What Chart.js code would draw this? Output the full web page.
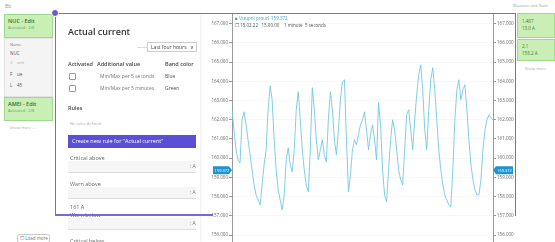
<!DOCTYPE html>
<html><head><meta charset="utf-8">
<script src="https://cdn.jsdelivr.net/npm/chart.js@4"></script>
<style>
html,body{margin:0;padding:0;width:555px;height:242px;overflow:hidden;background:#fff;font-family:"Open Sans",sans-serif;}
.abs{position:absolute;white-space:nowrap;}
.t{font-size:5px;color:#777;}
.card{position:absolute;background:#c9efb6;border:1px solid #9fd98a;box-sizing:border-box;}
#box{position:absolute;left:55px;top:13px;width:461px;height:203px;border:1.5px solid #7b68d8;border-bottom:none;box-sizing:border-box;}
#boxb{position:absolute;left:55px;top:214px;width:158px;height:1.5px;background:#7b68d8;}
#handle{position:absolute;left:51px;top:9px;width:8px;height:8px;border-radius:50%;background:#6a58d0;border:1px solid #fff;box-sizing:border-box;}
#dlg{position:absolute;left:57px;top:15px;width:143px;height:227px;background:#fff;box-shadow:1px 0 2px rgba(0,0,0,0.07);}
.inp{position:absolute;left:11px;width:128px;height:11px;background:#f6f6f6;border-bottom:1px solid #ddd;}
#c{position:absolute;left:195px;top:10px;}
</style></head><body>
<div class="abs t" style="left:5px;top:3px;color:#999;">Bb</div>
<div class="card" style="left:4px;top:14px;width:49px;height:24px;"></div>
<div class="abs" style="left:8px;top:17px;font-size:5.5px;font-weight:600;color:#3a6a2a;">NUC - Edit</div>
<div class="abs" style="left:8px;top:25px;font-size:4px;color:#6a9a5a;">Activated · 2/8</div>
<div class="abs" style="left:4px;top:38px;width:49px;height:59px;background:#f4f4f4;border:1px solid #e2e2e2;box-sizing:border-box;"></div>
<div class="abs t" style="left:10px;top:42px;font-size:4px;">Name</div>
<div class="abs t" style="left:10px;top:50px;font-size:4.5px;color:#555;">NUC</div>
<div class="abs t" style="left:10px;top:60px;font-size:4px;color:#aaa;">#&nbsp;&nbsp;&nbsp; unit</div>
<div class="abs t" style="left:10px;top:71px;font-size:4.5px;color:#555;">F&nbsp;&nbsp;&nbsp; ue</div>
<div class="abs t" style="left:10px;top:82px;font-size:4.5px;color:#555;">L&nbsp;&nbsp;&nbsp; 45</div>
<div class="card" style="left:4px;top:97px;width:49px;height:24px;"></div>
<div class="abs" style="left:8px;top:100px;font-size:5.5px;font-weight:600;color:#3a6a2a;">AMEI - Edit</div>
<div class="abs" style="left:8px;top:108px;font-size:4px;color:#6a9a5a;">Activated · 2/8</div>
<div class="abs t" style="left:10px;top:125px;font-size:4px;color:#aaa;">Show more ...</div>
<div class="abs" style="left:17px;top:234px;width:33px;height:9px;border:1px solid #ccc;border-radius:2px;box-sizing:border-box;font-size:4.5px;color:#777;padding-left:2px;line-height:7px;">☐ Load more</div>

<div class="abs t" style="left:513px;top:3px;font-size:4px;color:#999;">Measure unit  Scale</div>
<div class="card" style="left:517px;top:13px;width:38px;height:25px;"></div>
<div class="abs" style="left:522px;top:18px;font-size:4.5px;color:#4a7a3a;">1.487</div>
<div class="abs" style="left:522px;top:25px;font-size:4.5px;color:#4a7a3a;">13.0 A</div>
<div class="card" style="left:517px;top:39px;width:38px;height:22px;"></div>
<div class="abs" style="left:522px;top:43px;font-size:4.5px;color:#4a7a3a;">2.1</div>
<div class="abs" style="left:522px;top:50px;font-size:4.5px;color:#4a7a3a;">158.2 A</div>
<div class="abs t" style="left:525px;top:66px;font-size:4px;color:#aaa;">Show more</div>

<canvas id="c" width="325" height="248" style="width:325px;height:248px;"></canvas>
<div class="abs" style="left:235px;top:15px;font-size:4.5px;color:#3aa7cc;">■ Vstupní proud&nbsp; 159.372</div>
<div class="abs" style="left:235px;top:22px;font-size:4.5px;color:#555;">☐ 15.02.22&nbsp;&nbsp; 15.00.00&nbsp;&nbsp;&nbsp; 1 minute&nbsp; 5 seconds</div>

<div id="dlg">
  <div class="abs" style="left:11px;top:10px;font-size:9px;font-weight:600;color:#333;">Actual current</div>
  <div class="abs t" style="left:80px;top:29px;color:#aaa;">——</div>
  <div class="abs" style="left:90px;top:27px;width:50px;height:10px;border:1px solid #ccc;box-sizing:border-box;font-size:5px;color:#444;line-height:8px;padding-left:3px;">Last four hours&nbsp;&nbsp; ∨</div>
  <div class="abs" style="left:11px;top:45px;font-size:5.5px;font-weight:600;color:#444;">Activated</div>
  <div class="abs" style="left:40px;top:45px;font-size:5.5px;font-weight:600;color:#444;">Additional value</div>
  <div class="abs" style="left:108px;top:45px;font-size:5.5px;font-weight:600;color:#444;">Band color</div>
  <div class="abs" style="left:12px;top:58px;width:5px;height:5px;border:1px solid #999;border-radius:1px;"></div>
  <div class="abs t" style="left:43px;top:58px;">Min/Max per 5 seconds</div>
  <div class="abs t" style="left:108px;top:58px;color:#555;">Blue</div>
  <div class="abs" style="left:12px;top:70px;width:5px;height:5px;border:1px solid #999;border-radius:1px;"></div>
  <div class="abs t" style="left:43px;top:70px;">Min/Max per 5 minutes</div>
  <div class="abs t" style="left:108px;top:70px;color:#555;">Green</div>
  <div class="abs" style="left:11px;top:89px;font-size:5.5px;font-weight:600;color:#444;">Rules</div>
  <div class="abs t" style="left:13px;top:106px;font-size:4px;color:#aaa;">No rules defined</div>
  <div class="abs" style="left:11px;top:120px;width:128px;height:13px;background:#5a4fd6;color:#fff;font-size:5.5px;line-height:13px;padding-left:4px;box-sizing:border-box;">Create new rule for "Actual current"</div>
  <div class="abs t" style="left:13px;top:139px;font-size:5.5px;color:#666;">Critical above</div>
  <div class="inp" style="top:146px;"></div><div class="abs t" style="left:133px;top:148px;">: A</div>
  <div class="abs t" style="left:13px;top:165px;font-size:5.5px;color:#666;">Warn above</div>
  <div class="inp" style="top:172px;"></div><div class="abs t" style="left:133px;top:174px;">: A</div>
  <div class="abs t" style="left:13px;top:188px;font-size:5.5px;color:#666;">161 A</div>
  <div class="abs t" style="left:13px;top:196px;font-size:5.5px;color:#666;">Warn below</div>
  <div class="inp" style="top:203px;"></div><div class="abs t" style="left:133px;top:205px;">: A</div>
  <div class="abs t" style="left:13px;top:222px;font-size:5.5px;color:#666;">Critical below</div>
</div>
<div id="box"></div><div id="boxb"></div><div id="handle"></div>

<script>
const labels = [
"14:58:04","14:58:06","14:58:08","14:58:10","14:58:12","14:58:14","14:58:16","14:58:18","14:58:20","14:58:22",
"14:58:24","14:58:26","14:58:28","14:58:30","14:58:32","14:58:34","14:58:36","14:58:38","14:58:40","14:58:42",
"14:58:44","14:58:46","14:58:48","14:58:50","14:58:52","14:58:54","14:58:56","14:58:58","14:59:00","14:59:02",
"14:59:04","14:59:06","14:59:08","14:59:10","14:59:12","14:59:14","14:59:16","14:59:18","14:59:20","14:59:22",
"14:59:24","14:59:26","14:59:28","14:59:30","14:59:32","14:59:34","14:59:36","14:59:38","14:59:40","14:59:42",
"14:59:44","14:59:46","14:59:48","14:59:50","14:59:52","14:59:54","14:59:56","14:59:58","15:00:00","15:00:02",
"15:00:04","15:00:06","15:00:08","15:00:10","15:00:12","15:00:14","15:00:16","15:00:18","15:00:20","15:00:22",
"15:00:24","15:00:26","15:00:28","15:00:30","15:00:32","15:00:34","15:00:36","15:00:38","15:00:40","15:00:42",
"15:00:44","15:00:46","15:00:48","15:00:50","15:00:52","15:00:54","15:00:56","15:00:58","15:01:00","15:01:02",
"15:01:04","15:01:06","15:01:08","15:01:10","15:01:12","15:01:14","15:01:16","15:01:18","15:01:20","15:01:22",
"15:01:24","15:01:26","15:01:28","15:01:30","15:01:32","15:01:34","15:01:36","15:01:38","15:01:40","15:01:42",
"15:01:44","15:01:46","15:01:48","15:01:50","15:01:52","15:01:54","15:01:56","15:01:58","15:02:00","15:02:02",
"15:02:04","15:02:06","15:02:08","15:02:10","15:02:12","15:02:14","15:02:16","15:02:18","15:02:20","15:02:22",
"15:02:24"];
const currentValues = [
162.52,161.48,160.44,159.92,159.76,162.00,162.42,161.74,160.96,160.18,
159.40,158.61,158.09,157.83,157.57,158.61,159.66,160.44,162.52,163.77,
163.04,160.96,159.40,158.35,157.83,157.31,158.09,159.92,160.54,159.66,
159.29,160.44,162.52,163.46,162.00,160.44,159.40,158.61,158.25,160.44,
163.67,162.52,160.96,159.92,160.44,160.96,160.18,159.81,162.00,163.46,
162.52,160.96,160.18,161.48,163.04,163.98,164.08,160.96,158.25,159.14,
160.44,160.96,160.70,161.22,161.74,162.00,162.42,161.48,160.44,161.22,
161.74,160.96,159.92,162.89,161.74,159.40,158.09,157.73,159.40,160.96,
162.00,161.48,160.44,159.40,158.88,158.61,160.44,162.26,162.52,161.48,
160.44,162.00,163.30,164.34,164.86,163.56,161.48,160.44,162.52,164.08,
164.71,163.56,162.00,160.44,159.40,158.61,158.09,157.83,157.57,157.47,
159.40,162.00,163.56,164.08,163.04,163.56,163.82,162.52,160.96,159.66,
158.88,158.35,158.09,158.09,158.88,160.44,161.48,162.00,162.26,162.10,
162.00];
const tickValues = [156,157,158,159,160,161,162,163,164,165,166,167];
const axisMin = 155.0, axisMax = 167.52;
const lastValue = 159.372;

const badgePlugin = {
  id:'badges',
  afterDraw(chart){
    const ctx = chart.ctx, y = chart.scales.y.getPixelForValue(lastValue);
    const a = chart.chartArea;
    ctx.save();
    ctx.fillStyle = '#1f93d1';
    ctx.beginPath();
    ctx.moveTo(a.left-19, y-4); ctx.lineTo(a.left-3, y-4); ctx.lineTo(a.left, y);
    ctx.lineTo(a.left-3, y+4); ctx.lineTo(a.left-19, y+4); ctx.closePath(); ctx.fill();
    ctx.beginPath();
    ctx.moveTo(a.right, y); ctx.lineTo(a.right+3, y-4); ctx.lineTo(a.right+20, y-4);
    ctx.lineTo(a.right+20, y+4); ctx.lineTo(a.right+3, y+4); ctx.closePath(); ctx.fill();
    ctx.fillStyle = '#fff'; ctx.font = '4px "Open Sans"'; ctx.textBaseline='middle';
    ctx.textAlign='center';
    ctx.fillText(lastValue.toFixed(3), a.left-10, y+0.5);
    ctx.fillText(lastValue.toFixed(3), a.right+11.5, y+0.5);
    ctx.restore();
  }
};

const yCommon = (pos, w) => ({
  position: pos, min: axisMin, max: axisMax,
  afterBuildTicks(s){ s.ticks = tickValues.map(v=>({value:v})); },
  afterFit(s){ s.width = w; },
  border:{display:true,color:'#9a9a9a',width:1},
  grid:{display:true, drawOnChartArea: pos==='left', color:'rgba(0,0,0,0.03)', tickLength:3, tickColor:'#9a9a9a'},
  ticks:{padding:1, color:'#666', font:{size:4.5, family:'"Open Sans"'}, callback:v=>Number(v).toFixed(3)}
});

new Chart(document.getElementById('c'), {
  type:'line',
  data:{labels, datasets:[{data:currentValues, borderColor:'#72c8e2', borderWidth:0.9, pointRadius:0, tension:0, fill:false}]},
  options:{
    responsive:false, animation:false, maintainAspectRatio:false,
    layout:{padding:0},
    plugins:{legend:{display:false}, tooltip:{enabled:false}},
    scales:{
      x:{display:false},
      y: yCommon('left', 37),
      y2: yCommon('right', 27)
    }
  },
  plugins:[badgePlugin]
});
</script>
</body></html>
